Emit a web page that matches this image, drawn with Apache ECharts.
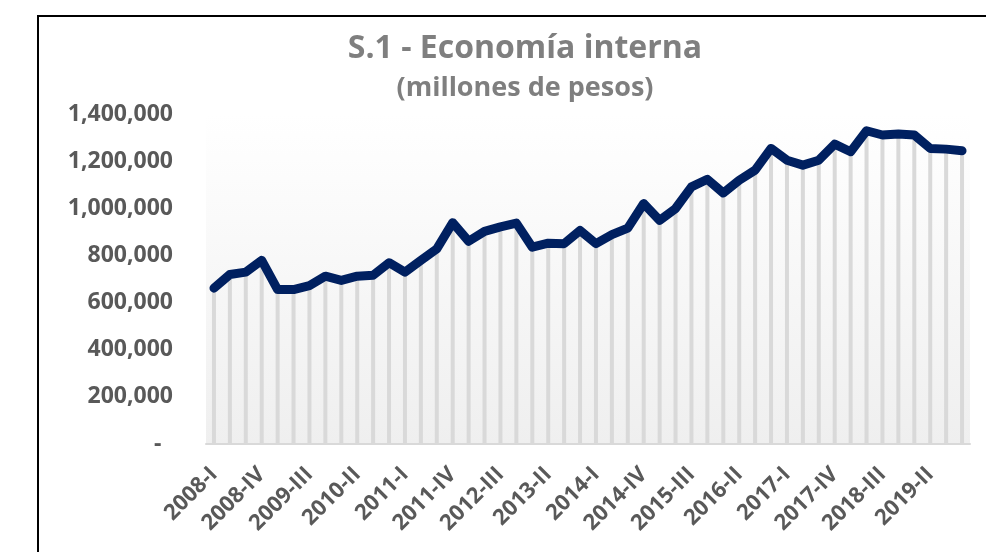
<!DOCTYPE html>
<html>
<head>
<meta charset="utf-8">
<script src="https://cdn.jsdelivr.net/npm/echarts@6/dist/echarts.min.js"></script>
<style>
    html, body { margin: 0; padding: 0; background: #fff; }
    #chart { width: 986px; height: 552px; }
</style>
</head>
<body>
<div id="chart"></div>
<script>
    // trimestres 2008-I .. 2019-IV
    var years = ['2008', '2009', '2010', '2011', '2012', '2013', '2014', '2015', '2016', '2017', '2018', '2019'];
    var quarters = ['I', 'II', 'III', 'IV'];
    var categories = [];
    years.forEach(function (y) {
        quarters.forEach(function (q) { categories.push(y + '-' + q); });
    });

    // millones de pesos
    var values = [
        661000, 719000, 729000, 779000, 655000, 655000, 672000, 712000,
        694000, 712000, 716000, 769000, 729000, 779000, 828000, 939000,
        860000, 902000, 921000, 937000, 835000, 852000, 850000, 906000,
        850000, 888000, 916000, 1020000, 949000, 999000, 1091000, 1123000,
        1065000, 1119000, 1162000, 1254000, 1204000, 1183000, 1204000, 1272000,
        1240000, 1329000, 1311000, 1315000, 1311000, 1254000, 1251000, 1244000
    ];

    var myChart = echarts.init(document.getElementById('chart'));
    myChart.setOption({
        animation: false,
        backgroundColor: '#fff',
        graphic: [{
            type: 'rect',
            shape: {x: 38, y: 16, width: 1000, height: 600},
            style: {fill: 'none', stroke: '#000', lineWidth: 2},
            z: 100
        }],
        title: {
            text: 'S.1 - Economía interna',
            subtext: '(millones de pesos)',
            left: 520,
            textAlign: 'center',
            top: 28,
            itemGap: 10,
            textStyle: {fontFamily: 'Open Sans', fontWeight: 'bold', fontSize: 32, color: '#7f7f7f'},
            subtextStyle: {fontFamily: 'Open Sans', fontWeight: 'bold', fontSize: 27, color: '#7f7f7f'}
        },
        grid: {
            left: 206, right: 16, top: 114, bottom: 108,
            show: true,
            borderWidth: 0,
            backgroundColor: new echarts.graphic.LinearGradient(0, 0, 0, 1, [
                {offset: 0, color: '#ffffff'},
                {offset: 0.13, color: '#fdfdfd'},
                {offset: 1, color: '#efefef'}
            ])
        },
        xAxis: {
            type: 'category',
            data: categories,
            boundaryGap: true,
            axisLine: {lineStyle: {color: '#d9d9d9', width: 2}},
            axisTick: {show: false},
            axisLabel: {
                interval: 2,
                rotate: 45,
                margin: 27,
                color: '#595959',
                fontFamily: 'Open Sans',
                fontWeight: 'bold',
                fontSize: 22
            }
        },
        yAxis: {
            type: 'value',
            min: 0,
            max: 1400000,
            interval: 200000,
            splitLine: {show: false},
            axisLine: {show: false},
            axisTick: {show: false},
            axisLabel: {
                margin: 33,
                color: '#595959',
                fontFamily: 'Open Sans',
                fontWeight: 'bold',
                fontSize: 23,
                formatter: function (v) {
                    return v === 0 ? '-\u2002' : v.toLocaleString('en-US');
                }
            }
        },
        series: [{
            // líneas de caída
            type: 'bar',
            data: values,
            barWidth: 4,
            itemStyle: {color: '#d9d9d9'},
            silent: true
        }, {
            name: 'Economía interna',
            type: 'line',
            data: values,
            showSymbol: false,
            lineStyle: {color: '#002060', width: 9, join: 'round', cap: 'round'},
            z: 5
        }]
    });
</script>
</body>
</html>
